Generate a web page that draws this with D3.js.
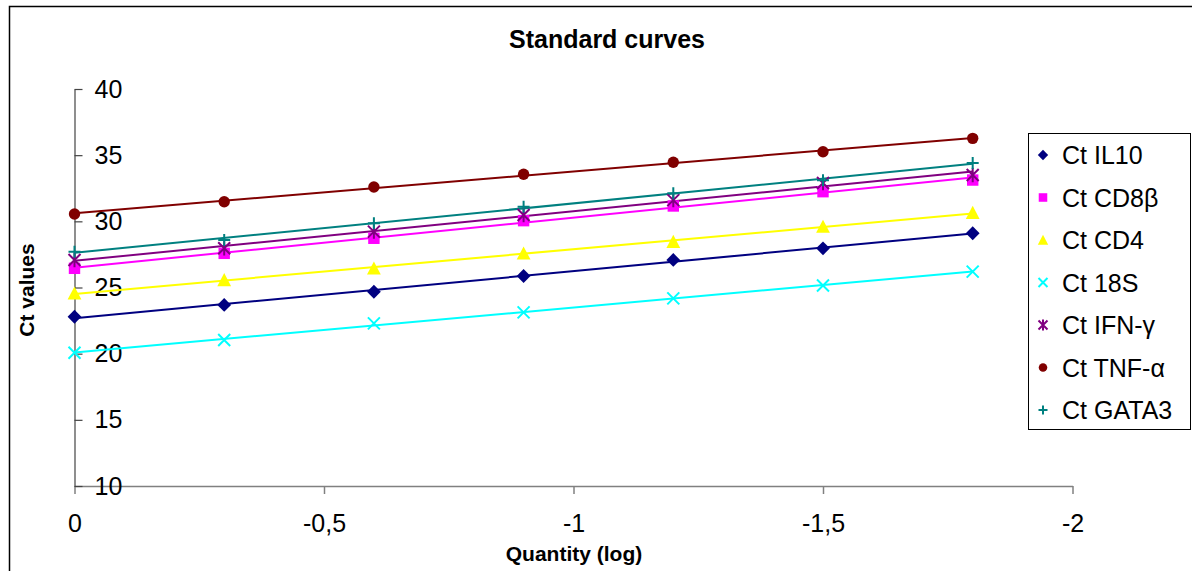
<!DOCTYPE html>
<html>
<head>
<meta charset="utf-8">
<script src="https://d3js.org/d3.v7.min.js"></script>
<style>
body { margin: 0; background: #fff; }
svg { font-family: "Liberation Sans", Arial, sans-serif; }
.axis text { font-size: 25px; fill: #000; }
.legend text { font-size: 25px; fill: #000; }
</style>
</head>
<body>
<div id="chart"></div>
<script>
// x positions (log quantity)
var quantities = [0, -0.3, -0.6, -0.9, -1.2, -1.5, -1.8];

// Ct values per target
var ctIL10  = [22.79, 23.68, 24.68, 25.87, 27.08, 27.96, 29.10];
var ctCD8b  = [26.45, 27.58, 28.72, 30.05, 31.16, 32.24, 33.12];
var ctCD4   = [24.56, 25.57, 26.45, 27.58, 28.46, 29.60, 30.65];
var ct18S   = [20.07, 21.03, 22.29, 23.12, 24.18, 25.15, 26.20];
var ctIFNg  = [27.08, 27.96, 29.22, 30.48, 31.60, 32.90, 33.50];
var ctTNFa  = [30.55, 31.48, 32.60, 33.56, 34.46, 35.26, 36.27];
var ctGATA3 = [27.71, 28.59, 29.85, 31.11, 32.12, 33.10, 34.40];

var seriesNames = ["Ct IL10", "Ct CD8\u03b2", "Ct CD4", "Ct 18S", "Ct IFN-\u03b3", "Ct TNF-\u03b1", "Ct GATA3"];
var xTicks = [0, -0.5, -1, -1.5, -2];
var yTicks = [10, 15, 20, 25, 30, 35, 40];

var series = [
  {name: seriesNames[0], values: ctIL10,  color: "#000080", shape: "diamond"},
  {name: seriesNames[1], values: ctCD8b,  color: "#ff00ff", shape: "square"},
  {name: seriesNames[2], values: ctCD4,   color: "#ffff00", shape: "triangle"},
  {name: seriesNames[3], values: ct18S,   color: "#00ffff", shape: "cross"},
  {name: seriesNames[4], values: ctIFNg,  color: "#800080", shape: "star"},
  {name: seriesNames[5], values: ctTNFa,  color: "#800000", shape: "circle"},
  {name: seriesNames[6], values: ctGATA3, color: "#008080", shape: "plus"}
];

var W = 1192, H = 571;
var svg = d3.select("#chart").append("svg")
    .attr("width", W)
    .attr("height", H);

// outer frame
svg.append("rect")
    .attr("x", 9.5).attr("y", 6.5)
    .attr("width", 1300).attr("height", 700)
    .attr("fill", "none")
    .attr("stroke", "#000")
    .attr("stroke-width", 1.5);

var x = d3.scaleLinear().domain([0, -2]).range([74.5, 1072.5]);
var y = d3.scaleLinear().domain([10, 40]).range([486, 89]);

var fmt = function(d) { return String(d).replace(".", ","); };

// x axis
var gx = svg.append("g")
    .attr("class", "axis")
    .attr("transform", "translate(0,486)")
    .call(d3.axisBottom(x).tickValues(xTicks).tickFormat(fmt).tickSize(8).tickPadding(20).tickSizeOuter(0));
gx.selectAll("path, line").attr("stroke", "#808080").attr("stroke-width", 1.5);

// y axis (ticks point inward, labels inside)
var gy = svg.append("g")
    .attr("class", "axis")
    .attr("transform", "translate(74.5,0)")
    .call(d3.axisRight(y).tickValues(yTicks).tickSize(8).tickPadding(12).tickSizeOuter(0));
gy.selectAll("path, line").attr("stroke", "#444").attr("stroke-width", 1.2);

// least squares trendline
function fit(xs, ys) {
  var mx = d3.mean(xs), my = d3.mean(ys);
  var num = d3.sum(xs, function(v, i) { return (v - mx) * (ys[i] - my); });
  var den = d3.sum(xs, function(v) { return (v - mx) * (v - mx); });
  var b = num / den;
  return {a: my - b * mx, b: b};
}

function drawMarker(g, shape, color, s) {
  if (shape === "cross") {
    g.append("path")
      .attr("d", "M" + (-s) + "," + (-s) + "L" + s + "," + s + "M" + (-s) + "," + s + "L" + s + "," + (-s))
      .attr("stroke", color).attr("stroke-width", 2).attr("fill", "none");
  } else if (shape === "plus") {
    g.append("path")
      .attr("d", "M" + (-s) + ",0L" + s + ",0M0," + (-s) + "L0," + s)
      .attr("stroke", color).attr("stroke-width", 2).attr("fill", "none");
  } else if (shape === "star") {
    g.append("path")
      .attr("d", "M" + (-s) + "," + (-s) + "L" + s + "," + s + "M" + (-s) + "," + s + "L" + s + "," + (-s) + "M0," + (-s * 1.2) + "L0," + (s * 1.2))
      .attr("stroke", color).attr("stroke-width", 2).attr("fill", "none");
  } else if (shape === "diamond") {
    var r = s * 1.15;
    g.append("path")
      .attr("d", "M0," + (-r) + "L" + r + ",0L0," + r + "L" + (-r) + ",0Z")
      .attr("fill", color);
  } else if (shape === "square") {
    g.append("rect")
      .attr("x", -s * 0.95).attr("y", -s * 0.95)
      .attr("width", s * 1.9).attr("height", s * 1.9)
      .attr("fill", color);
  } else if (shape === "triangle") {
    var t = s * 1.15;
    g.append("path")
      .attr("d", "M0," + (-t) + "L" + t + "," + t * 0.9 + "L" + (-t) + "," + t * 0.9 + "Z")
      .attr("fill", color);
  } else {
    g.append("circle").attr("r", s * 0.95).attr("fill", color);
  }
}

var plot = svg.append("g");

series.forEach(function(s) {
  var f = fit(quantities, s.values);
  var x0 = d3.max(quantities), x1 = d3.min(quantities);
  plot.append("line")
    .attr("x1", x(x0)).attr("y1", y(f.a + f.b * x0))
    .attr("x2", x(x1)).attr("y2", y(f.a + f.b * x1))
    .attr("stroke", s.color)
    .attr("stroke-width", 2);
});

series.forEach(function(s) {
  s.values.forEach(function(v, i) {
    var g = plot.append("g")
      .attr("transform", "translate(" + x(quantities[i]) + "," + y(v) + ")");
    drawMarker(g, s.shape, s.color, 6);
  });
});

// titles
svg.append("text")
    .attr("x", 607).attr("y", 48)
    .attr("text-anchor", "middle")
    .style("font-size", "25px")
    .style("font-weight", "bold")
    .text("Standard curves");

svg.append("text")
    .attr("x", 574).attr("y", 561)
    .attr("text-anchor", "middle")
    .style("font-size", "21px")
    .style("font-weight", "bold")
    .text("Quantity (log)");

svg.append("text")
    .attr("transform", "translate(34,290) rotate(-90)")
    .attr("text-anchor", "middle")
    .style("font-size", "21px")
    .style("font-weight", "bold")
    .text("Ct values");

// legend
var legend = svg.append("g").attr("class", "legend");
legend.append("rect")
    .attr("x", 1028.5).attr("y", 133.5)
    .attr("width", 162).attr("height", 296)
    .attr("fill", "#fff")
    .attr("stroke", "#000")
    .attr("stroke-width", 1);

series.forEach(function(s, i) {
  var cy = 155 + i * 42.5;
  var g = legend.append("g").attr("transform", "translate(1043," + cy + ")");
  drawMarker(g, s.shape, s.color, 4.5);
  legend.append("text")
    .attr("x", 1062).attr("y", cy)
    .attr("dy", "0.36em")
    .text(s.name);
});
</script>
</body>
</html>
